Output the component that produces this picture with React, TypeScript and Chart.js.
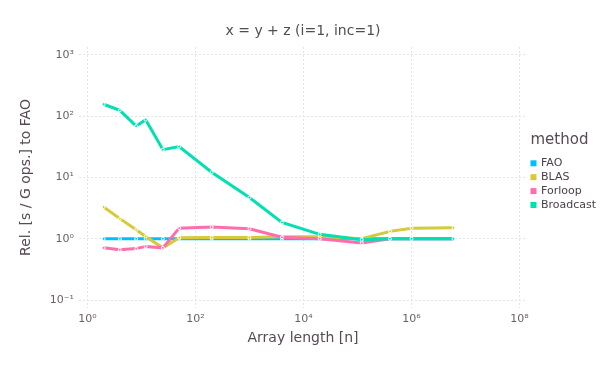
import React, { useEffect, useRef } from "react";
import { Chart, registerables } from "chart.js";

Chart.register(...registerables);

const arrayLengths = [2, 4, 8, 12, 25, 50, 200, 1000, 4000, 20000, 120000, 400000, 1000000, 6000000];
const faoValues = [1, 1, 1, 1, 1, 1, 1, 1, 1, 1, 1, 1, 1, 1];
const blasValues = [3.3, 2.13, 1.4, 1.09, 0.71, 1.04, 1.05, 1.05, 1.08, 1.08, 1.0, 1.32, 1.49, 1.51];
const forloopValues = [0.71, 0.66, 0.69, 0.75, 0.71, 1.49, 1.55, 1.46, 1.06, 1.0, 0.85, 1.0, 1.0, 1.0];
const broadcastValues = [157, 125, 69, 88, 28.5, 32, 12.2, 4.7, 1.85, 1.18, 0.96, 1.0, 1.0, 1.0];

const seriesNames = ["FAO", "BLAS", "Forloop", "Broadcast"];
const seriesColors = ["#00BFFF", "#D4CA3A", "#FF6DAE", "#00E0B2"];
const seriesValues = [faoValues, blasValues, forloopValues, broadcastValues];

const xTickValues = [1, 1e2, 1e4, 1e6, 1e8];
const yTickValues = [0.1, 1, 10, 100, 1000];

const titleText = "x = y + z (i=1, inc=1)";
const xTitle = "Array length [n]";
const yTitle = "Rel. [s / G ops.] to FAO";
const legendTitle = "method";

const FONT = '"DejaVu Sans", sans-serif';
const SUP: Record<string, string> = {
  "0": "\u2070", "1": "\u00B9", "2": "\u00B2", "3": "\u00B3", "4": "\u2074",
  "5": "\u2075", "6": "\u2076", "7": "\u2077", "8": "\u2078", "9": "\u2079", "-": "\u207B",
};
const powLabel = (v: number) => {
  const e = String(Math.round(Math.log10(v)));
  return "10" + e.split("").map((c) => SUP[c] || c).join("");
};

const overlayPlugin = {
  id: "gadflyOverlay",
  afterDraw(chart: any) {
    const ctx = chart.ctx;
    const area = chart.chartArea;
    ctx.save();
    ctx.textBaseline = "middle";
    ctx.textAlign = "center";
    ctx.fillStyle = "#564A55";
    ctx.font = `14px ${FONT}`;
    ctx.fillText(titleText, (area.left + area.right) / 2, 31);
    ctx.textAlign = "left";
    ctx.font = `15px ${FONT}`;
    ctx.fillText(legendTitle, 530.5, 140);
    ctx.font = `11px ${FONT}`;
    seriesNames.forEach((name, i) => {
      const y = 163.3 + i * 13.9;
      ctx.fillStyle = seriesColors[i];
      ctx.fillRect(530.5, y - 3, 6, 6);
      ctx.fillStyle = "#4C404B";
      ctx.fillText(name, 541, y);
    });
    ctx.restore();
  },
};

export default function App() {
  const ref = useRef<HTMLCanvasElement | null>(null);
  useEffect(() => {
    if (!ref.current) return;
    const gridColor = "#E2E2EC";
    const chart = new Chart(ref.current, {
      type: "line",
      data: {
        datasets: seriesNames.map((name, i) => ({
          label: name,
          data: arrayLengths.map((x, j) => ({ x, y: seriesValues[i][j] })),
          borderColor: seriesColors[i],
          backgroundColor: seriesColors[i],
          borderWidth: 3,
          pointRadius: 1.5,
          pointBackgroundColor: seriesColors[i],
          pointBorderColor: "#FFFFFF",
          pointBorderWidth: 1,
          tension: 0,
          fill: false,
          order: seriesNames.length - i,
        })),
      },
      options: {
        responsive: false,
        animation: false,
        devicePixelRatio: 1,
        layout: { padding: { top: 47, right: 78, left: 0, bottom: 0 } },
        plugins: {
          legend: { display: false },
          tooltip: { enabled: false },
          title: { display: false },
        },
        scales: {
          x: {
            type: "logarithmic",
            min: Math.pow(10, -7 / 54.19),
            max: Math.pow(10, 8 + 7.5 / 54.19),
            afterBuildTicks: (s: any) => {
              s.ticks = xTickValues.map((value) => ({ value }));
            },
            afterFit: (s: any) => {
              s.height = 70;
            },
            grid: { color: gridColor, lineWidth: 1, drawTicks: false },
            border: { display: false, dash: [2, 2] },
            ticks: {
              autoSkip: false,
              maxRotation: 0,
              padding: 5,
              color: "#6C606B",
              font: { family: FONT, size: 11 },
              callback: (v: any) => powLabel(Number(v)),
            },
            title: {
              display: true,
              text: xTitle,
              color: "#564A55",
              font: { family: FONT, size: 14 },
              padding: { top: 0, bottom: 31.6 },
            },
          },
          y: {
            type: "logarithmic",
            min: Math.pow(10, -1 - 8 / 61.25),
            max: Math.pow(10, 3 + 8 / 61.25),
            afterBuildTicks: (s: any) => {
              s.ticks = yTickValues.map((value) => ({ value }));
            },
            afterFit: (s: any) => {
              s.width = 79;
            },
            grid: { color: gridColor, lineWidth: 1, drawTicks: false },
            border: { display: false, dash: [2, 2] },
            ticks: {
              autoSkip: false,
              padding: 5,
              color: "#6C606B",
              font: { family: FONT, size: 11 },
              callback: (v: any) => powLabel(Number(v)),
            },
            title: {
              display: true,
              text: yTitle,
              color: "#564A55",
              font: { family: FONT, size: 14 },
              padding: { top: 17.6, bottom: 0 },
            },
          },
        },
      },
      plugins: [overlayPlugin],
    } as any);
    return () => chart.destroy();
  }, []);
  return (
    <div style={{ position: "fixed", left: 0, top: 0, width: 605, height: 378, background: "#fff" }}>
      <canvas ref={ref} width={605} height={378} style={{ display: "block" }} />
    </div>
  );
}
